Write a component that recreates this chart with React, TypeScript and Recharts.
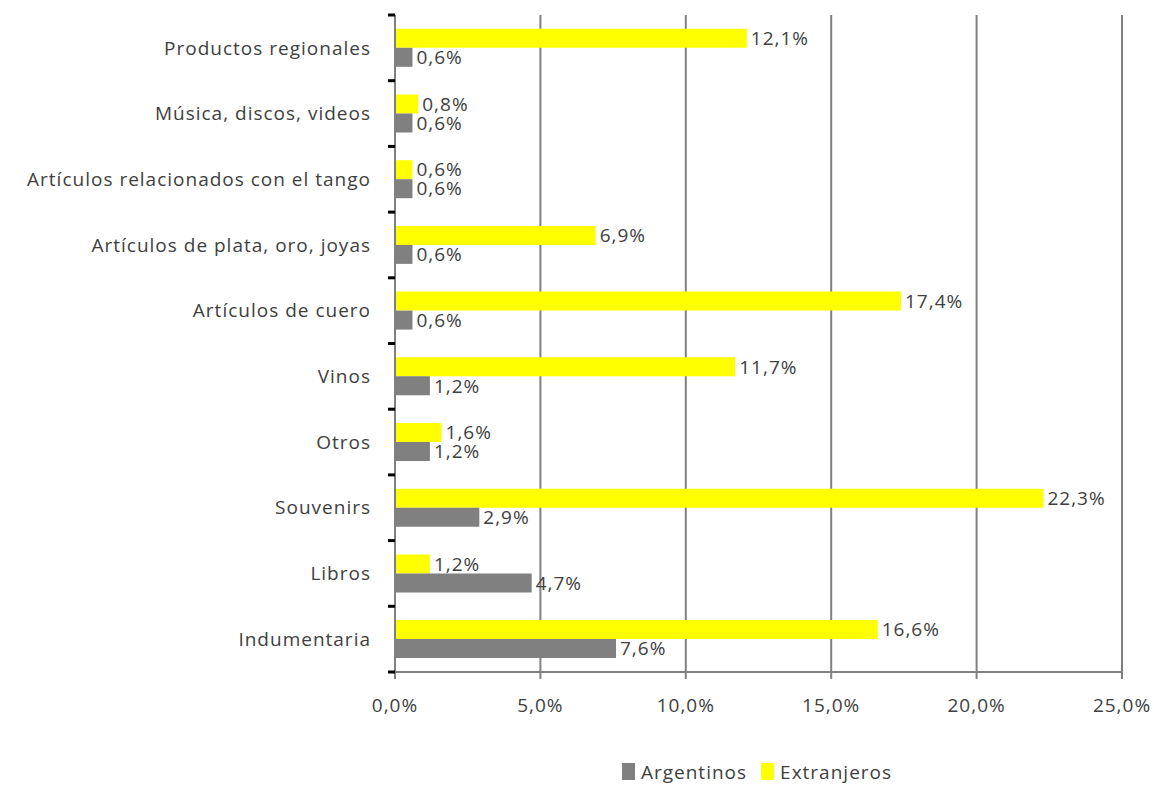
import { BarChart, Bar, XAxis, YAxis, CartesianGrid, LabelList, Legend } from "recharts";

const CATEGORIES = [
  "Productos regionales",
  "Música, discos, videos",
  "Artículos relacionados con el tango",
  "Artículos de plata, oro, joyas",
  "Artículos de cuero",
  "Vinos",
  "Otros",
  "Souvenirs",
  "Libros",
  "Indumentaria",
];
const EXTRANJEROS = [12.1, 0.8, 0.6, 6.9, 17.4, 11.7, 1.6, 22.3, 1.2, 16.6];
const ARGENTINOS = [0.6, 0.6, 0.6, 0.6, 0.6, 1.2, 1.2, 2.9, 4.7, 7.6];
const X_TICKS = [0, 5, 10, 15, 20, 25];

const data = CATEGORIES.map((name, i) => ({
  name,
  extranjeros: EXTRANJEROS[i],
  argentinos: ARGENTINOS[i],
}));

const FONT = "'Open Sans', sans-serif";
const TEXT = "#404040";
const GRAY = "#808080";
const YELLOW = "#FFFF00";
const FS = 19;
const LS = 1;
const PLOT_TOP = 15;
const PLOT_BOTTOM = 672;
const BAND = (PLOT_BOTTOM - PLOT_TOP) / CATEGORIES.length;

const pct = (v: number) => v.toFixed(1).replace(".", ",") + "%";

function CategoryTick(props: any) {
  const { x, y, payload, index } = props;
  return (
    <g>
      <line x1={x - 7} x2={x} y1={y - BAND / 2} y2={y - BAND / 2} stroke="#000" strokeWidth={3} />
      {index === CATEGORIES.length - 1 && (
        <line x1={x - 7} x2={x} y1={y + BAND / 2} y2={y + BAND / 2} stroke="#000" strokeWidth={3} />
      )}
      <text
        x={x - 24}
        y={y}
        dy="0.35em"
        textAnchor="end"
        fill={TEXT}
        fontSize={FS}
        letterSpacing={LS}
        fontFamily={FONT}
      >
        {payload.value}
      </text>
    </g>
  );
}

function LegendContent() {
  const items = [
    { label: "Argentinos", color: GRAY },
    { label: "Extranjeros", color: YELLOW },
  ];
  return (
    <div
      style={{
        height: 60,
        paddingTop: 39,
        boxSizing: "border-box",
        display: "flex",
        justifyContent: "center",
        gap: 14,
        fontFamily: FONT,
        fontSize: FS,
        letterSpacing: LS,
        color: TEXT,
        paddingLeft: 392,
      }}
    >
      {items.map((it) => (
        <div key={it.label} style={{ display: "flex", alignItems: "center", gap: 6 }}>
          <span style={{ display: "inline-block", width: 13, height: 17, background: it.color }} />
          <span>{it.label}</span>
        </div>
      ))}
    </div>
  );
}

export default function App() {
  return (
    <div style={{ position: "absolute", left: 0, top: 0, background: "#fff" }}>
      <BarChart
        width={1154}
        height={787}
        data={data}
        layout="vertical"
        margin={{ top: PLOT_TOP, right: 32, left: 0, bottom: 5 }}
        barCategoryGap="21%"
        barGap={0}
      >
        <CartesianGrid horizontal={false} stroke={GRAY} strokeWidth={2} />
        <XAxis
          type="number"
          domain={[0, 25]}
          ticks={X_TICKS}
          tickFormatter={pct}
          height={50}
          tickSize={7}
          tickMargin={20}
          axisLine={{ stroke: GRAY, strokeWidth: 2 }}
          tickLine={{ stroke: GRAY, strokeWidth: 2 }}
          tick={{ fill: TEXT, fontSize: FS, fontFamily: FONT, letterSpacing: LS }}
        />
        <YAxis
          type="category"
          dataKey="name"
          width={395}
          tickSize={0}
          tickMargin={0}
          tickLine={false}
          axisLine={{ stroke: GRAY, strokeWidth: 2 }}
          tick={<CategoryTick />}
          interval={0}
        />
        <Legend verticalAlign="bottom" content={<LegendContent />} />
        <Bar dataKey="extranjeros" name="Extranjeros" fill={YELLOW} isAnimationActive={false}>
          <LabelList
            dataKey="extranjeros"
            position="right"
            offset={4}
            formatter={(v: any) => pct(Number(v))}
            fill={TEXT}
            fontSize={FS}
            letterSpacing={LS}
            fontFamily={FONT}
          />
        </Bar>
        <Bar dataKey="argentinos" name="Argentinos" fill={GRAY} isAnimationActive={false}>
          <LabelList
            dataKey="argentinos"
            position="right"
            offset={4}
            formatter={(v: any) => pct(Number(v))}
            fill={TEXT}
            fontSize={FS}
            letterSpacing={LS}
            fontFamily={FONT}
          />
        </Bar>
      </BarChart>
    </div>
  );
}
